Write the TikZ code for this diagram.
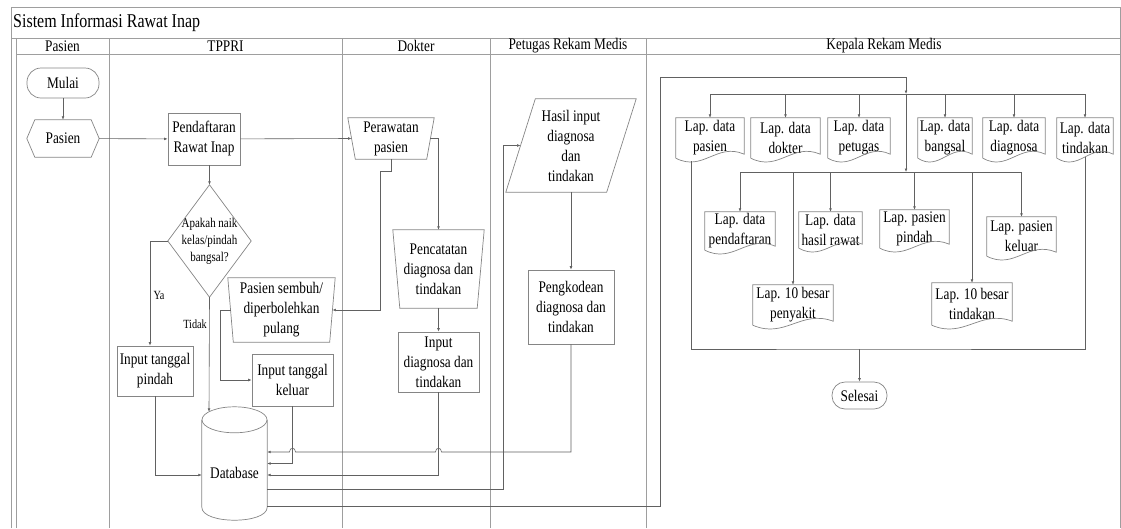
\documentclass[tikz,border=0pt]{standalone}
\usepackage{fontspec}
\setmainfont[FakeStretch=0.82]{Liberation Serif}
\usetikzlibrary{calc,arrows.meta}
\newcommand\nf{\fontsize{16.2}{20}\selectfont}
\newcommand\titlenf{\fontsize{19.5}{21}\selectfont}
\newcommand\dianf{\fontsize{13.4}{17}\selectfont}
\newcommand\lblnf{\fontsize{12.5}{14}\selectfont}
\newcommand\docshape[1]{\draw[shp] (#1.south west) -- (#1.north west) -- (#1.north east) -- ($(#1.south east)+(0,-4)$) .. controls ($(#1.south west)!0.6!(#1.south east)+(0,-16)$) and ($(#1.south west)!0.4!(#1.south east)+(0,14)$) .. (#1.south west);}
\newcommand\manop[2]{\draw[shp] (#1.north west) -- (#1.north east) -- ($(#1.south east)+(-#2,0)$) -- ($(#1.south west)+(#2,0)$) -- cycle;}
\tikzset{
  lane/.style={draw=black!38, line width=0.7pt},
  shp/.style={draw=black!48, line width=0.7pt},
  conn/.style={draw=black!62, line width=0.6pt},
  arr/.style={conn, -{Latex[length=3.5pt,width=2.8pt]}},
  txt/.style={font=\nf, align=center, inner sep=0pt, text=black},
}
\begin{document}
\begin{tikzpicture}[x=1pt,y=-1pt]
\useasboundingbox (0,0) rectangle (1121,528);
% frame and lanes
\draw[lane] (11,528) -- (11,7.5) -- (1120,7.5) -- (1120,528);
\draw[lane] (11,38) -- (1120,38);
\draw[lane] (16.5,54) -- (1120,54);
\draw[lane] (16.5,38) -- (16.5,528);
\foreach \lx in {109,342,490,646} \draw[lane] (\lx,38) -- (\lx,528);
\node[txt, font=\titlenf, anchor=west] (title) at (13,23) {Sistem Informasi Rawat Inap};
\node[txt] (h1) at (62.5,46) {Pasien};
\node[txt] (h2) at (225.5,46) {TPPRI};
\node[txt] (h3) at (416,46) {Dokter};
\node[txt] (h4) at (568,46) {Petugas Rekam Medis};
\node[txt] (h5) at (884,46) {Kepala Rekam Medis};
% Pasien lane
\node[txt, shp, rounded corners=14pt, minimum width=72, minimum height=30] (mulai) at (63,83) {Mulai};
\node[txt, minimum width=72, minimum height=37] (pas) at (63,138.5) {Pasien};
\draw[shp] (pas.west) -- ($(pas.north west)+(8,0)$) -- ($(pas.north east)+(-8,0)$) -- (pas.east) -- ($(pas.south east)+(-8,0)$) -- ($(pas.south west)+(8,0)$) -- cycle;
% TPPRI lane
\node[txt, shp, minimum width=72, minimum height=52] (pend) at (204,139) {Pendaftaran\\Rawat Inap};
\node[txt, font=\dianf, minimum width=83, minimum height=112] (dia) at (209.5,241) {Apakah naik\\kelas/pindah\\bangsal?};
\draw[shp] (dia.north) -- (dia.east) -- (dia.south) -- (dia.west) -- cycle;
\node[txt, shp, minimum width=76, minimum height=50] (pin) at (155,371) {Input tanggal\\pindah};
\node[txt, minimum width=107, minimum height=64] (ps) at (281.5,310) {Pasien sembuh/\\diperbolehkan\\pulang};
\manop{ps}{5.5}
\node[txt, shp, minimum width=81, minimum height=52] (kel) at (292.5,380) {Input tanggal\\keluar};
\node[minimum width=65, minimum height=113, inner sep=0pt] (db) at (234.5,463.5) {};
\draw[shp] ($(db.north)+(0,13)$) ellipse [x radius=32.5pt, y radius=13pt];
\draw[shp] ($(db.north west)+(0,13)$) -- ($(db.south west)+(0,-13)$) .. controls ($(db.south west)+(0,4.33)$) and ($(db.south east)+(0,4.33)$) .. ($(db.south east)+(0,-13)$) -- ($(db.north east)+(0,13)$);
\node[txt] (dbt) at (234.5,473) {Database};
% Dokter lane
\node[txt, minimum width=86, minimum height=41] (per) at (391,138.5) {Perawatan\\pasien};
\manop{per}{7.5}
\node[txt, minimum width=91, minimum height=78] (pc) at (438.5,269) {Pencatatan\\diagnosa dan\\tindakan};
\manop{pc}{7}
\node[txt, shp, minimum width=81, minimum height=60] (id) at (438.5,362) {Input\\diagnosa dan\\tindakan};
% Petugas Rekam Medis lane
\node[txt, minimum width=130, minimum height=93] (hi) at (571,145.5) {Hasil input\\diagnosa\\dan\\tindakan};
\draw[shp] ($(hi.north west)+(29.5,0)$) -- (hi.north east) -- ($(hi.south east)+(-29.5,0)$) -- (hi.south west) -- cycle;
\node[txt, shp, minimum width=86, minimum height=74] (pk) at (571,307) {Pengkodean\\diagnosa dan\\tindakan};
% Kepala Rekam Medis lane
\node[txt, minimum width=68, minimum height=40] (ldpas) at (710,138) {Lap. data\\pasien};
\node[txt, minimum width=69, minimum height=40] (ldok) at (785.5,138) {Lap. data\\dokter};
\node[txt, minimum width=62, minimum height=40] (ldpet) at (859,138) {Lap. data\\petugas};
\node[txt, minimum width=54, minimum height=40] (ldbang) at (945,138) {Lap. data\\bangsal};
\node[txt, minimum width=62, minimum height=40] (ldiag) at (1014,138) {Lap. data\\diagnosa};
\node[txt, minimum width=56, minimum height=40] (ldtin) at (1085,138) {Lap. data\\tindakan};
\node[txt, minimum width=70, minimum height=38] (ldpend) at (740,231) {Lap. data\\pendaftaran};
\node[txt, minimum width=80, minimum height=40] (ltp) at (793,305) {Lap. 10 besar\\penyakit};
\node[txt, minimum width=63, minimum height=36] (ldhr) at (830.5,230) {Lap. data\\hasil rawat};
\node[txt, minimum width=69, minimum height=38] (lpp) at (914.5,229) {Lap. pasien\\pindah};
\node[txt, minimum width=80, minimum height=42] (ltt) at (972,304) {Lap. 10 besar\\tindakan};
\node[txt, minimum width=69, minimum height=39] (lpk) at (1021.5,236.5) {Lap. pasien\\keluar};
\foreach \d in {ldpas,ldok,ldpet,ldbang,ldiag,ldtin,ldpend,ltp,ldhr,lpp,ltt,lpk} {\docshape{\d}}
\node[txt, shp, rounded corners=13pt, minimum width=55, minimum height=27] (sel) at (859.5,395.5) {Selesai};
% connectors
\draw[arr] (mulai) -- (pas);
\draw[arr] (pas) -- (pend);
\draw[arr] (pend) -- ([xshift=3.75pt]per.west);
\draw[arr] (dia.north |- pend.south) -- (dia.north);
\draw[arr] (dia.west) -| ($(pin.north)+(-5,0)$);
\node[txt, font=\lblnf] (ya) at (159,295) {Ya};
\draw[arr] (dia.south) -- ($(db.north)+(-25.5,5)$);
\node[txt, font=\lblnf, anchor=east] (tidak) at (207,324) {Tidak};
\draw[arr] (pin.south) |- ($(db.west)+(0,11.5)$);
\draw[arr] ([xshift=2.75pt]ps.west) -- ++(-10.75,0) |- (kel.west);
\draw[arr] (kel.south) |- (db.east);
\draw[arr] (per.south) -- ++(0,12) -- ++(-11,0) |- ([xshift=-2.75pt]ps.east);
\draw[arr] ([xshift=-3.75pt]per.east) -| (pc.north);
\draw[arr] (pc) -- (id);
\draw[arr] (id.south) |- ($(db.east)+(0,11.5)$);
\draw[arr] (hi) -- (pk);
\coordinate (hA) at (id.south |- 0,452);
\coordinate (hB) at (kel.south |- 0,452);
\draw[arr] (pk.south) |- ($(hA)+(3,0)$) .. controls ($(hA)+(3,-5)$) and ($(hA)+(-3,-5)$) .. ($(hA)+(-3,0)$) -- ($(hB)+(3,0)$) .. controls ($(hB)+(3,-5)$) and ($(hB)+(-3,-5)$) .. ($(hB)+(-3,0)$) -- ($(db.east)+(0,-11.5)$);
\coordinate (v1) at (503,489);
\draw[arr] ($(db.east)+(0,25.5)$) -- (v1) |- ([xshift=14.75pt]hi.west);
\coordinate (k0) at (660,506);
\coordinate (kc) at (906,77);
\coordinate (b1) at (906,94);
\coordinate (b2) at (906,172);
\draw[arr] ($(db.east)+(0,42.5)$) -- (k0) |- (kc) -- (b1);
\draw[arr] (b1) -- (b2);
\draw[conn] (ldpas.north |- b1) -- (ldtin.north |- b1);
\foreach \d in {ldpas,ldok,ldpet,ldbang,ldiag,ldtin} {\draw[arr] (\d.north |- b1) -- (\d.north);}
\draw[conn] (ldpend.north |- b2) -- (lpk.north |- b2);
\foreach \d in {ldpend,ltp,ldhr,lpp,ltt,lpk} {\draw[arr] (\d.north |- b2) -- (\d.north);}
\coordinate (brk) at (859.5,349);
\draw[conn] ($(ldpas.south west)+(15,3)$) |- (brk) -| ($(ldtin.south)+(0,-1)$);
\draw[arr] (brk) -- (sel.north);
\end{tikzpicture}
\end{document}
